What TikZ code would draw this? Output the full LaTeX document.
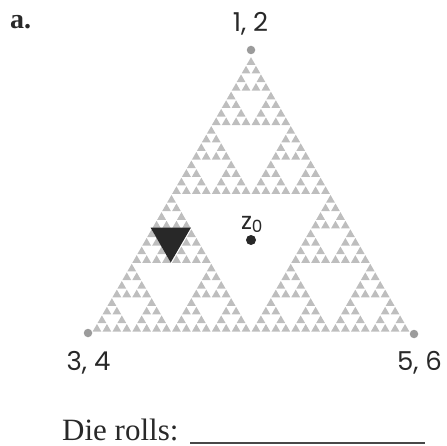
\documentclass[tikz,border=0pt]{standalone}
\usepackage{fontspec}
\setmainfont{Liberation Serif}
\newfontfamily\labelfont{Poppins}
\definecolor{sierpgray}{RGB}{190,190,190}
\definecolor{cornergray}{RGB}{155,155,155}
\definecolor{inkgray}{RGB}{40,40,40}

% Sierpinski gasket: base-left corner (x,y), side length, recursion depth.
% "Up" is the negative y direction in this picture.
\newcommand\sierpgasket[4]{%
  \begingroup
  \edef\sgx{#1}\edef\sgy{#2}\edef\sgs{#3}\edef\sgl{#4}%
  \ifnum\sgl=0\relax
    \pgfmathsetmacro\sgin{\sgs-1.1}%
    \fill[gasket] (\sgx+0.55,\sgy-0.32) -- +(\sgin,0) -- +(\sgin/2,-0.8660254*\sgin) -- cycle;
  \else
    \pgfmathsetmacro\sghalf{\sgs/2}%
    \pgfmathsetmacro\sgxr{\sgx+\sghalf}%
    \pgfmathsetmacro\sgxm{\sgx+\sghalf/2}%
    \pgfmathsetmacro\sgym{\sgy-0.8660254*\sghalf}%
    \pgfmathtruncatemacro\sglv{\sgl-1}%
    \sierpgasket{\sgx}{\sgy}{\sghalf}{\sglv}%
    \sierpgasket{\sgxr}{\sgy}{\sghalf}{\sglv}%
    \sierpgasket{\sgxm}{\sgym}{\sghalf}{\sglv}%
  \fi
  \endgroup}

\begin{document}
\begin{tikzpicture}[x=1pt,y=-1pt,
  gasket/.style={fill=sierpgray},
  corner/.style={circle,fill=cornergray,inner sep=0pt,minimum size=8.5pt},
  startdot/.style={circle,fill=inkgray,inner sep=0pt,minimum size=10pt},
  cornerlabel/.style={font=\labelfont\fontsize{26}{26}\selectfont,text=inkgray,inner sep=0pt,anchor=base},
  hole/.style={fill=inkgray}]
\useasboundingbox (0,0) rectangle (446,446);

% the gasket itself
\sierpgasket{92}{332}{318}{5}

% highlighted inner triangle
\fill[hole] (150.5,227.5) -- (191,227.5) -- (170.7,262.5) -- cycle;

% corner points with their die faces
\node[corner] (c12) at (251,50) {};
\node[corner] (c34) at (88,333) {};
\node[corner] (c56) at (414,334) {};
\node[cornerlabel] (l12) at (250.5,31.5) {1, 2};
\node[cornerlabel] (l34) at (88.5,370) {3, 4};
\node[cornerlabel] (l56) at (419.5,370) {5, 6};

% starting point
\node[startdot] (z0) at (251,240) {};
\node[font=\labelfont\fontsize{24}{24}\selectfont,text=inkgray,inner sep=0pt,anchor=base] (z0lab) at (252,229) {z\textsubscript{0}};

% panel tag and answer line
\node[font=\bfseries\fontsize{28}{28}\selectfont,text=inkgray,inner sep=0pt,anchor=base west] (tag) at (10,28.5) {a.};
\node[font=\fontsize{31}{31}\selectfont,text=inkgray,inner sep=0pt,anchor=base west] (rolls) at (62,440) {Die rolls:};
\coordinate (lineL) at (190,443);
\coordinate (lineR) at (425,443);
\draw[line width=1.8pt,draw=inkgray!85] (lineL) -- (lineR);
\end{tikzpicture}
\end{document}
